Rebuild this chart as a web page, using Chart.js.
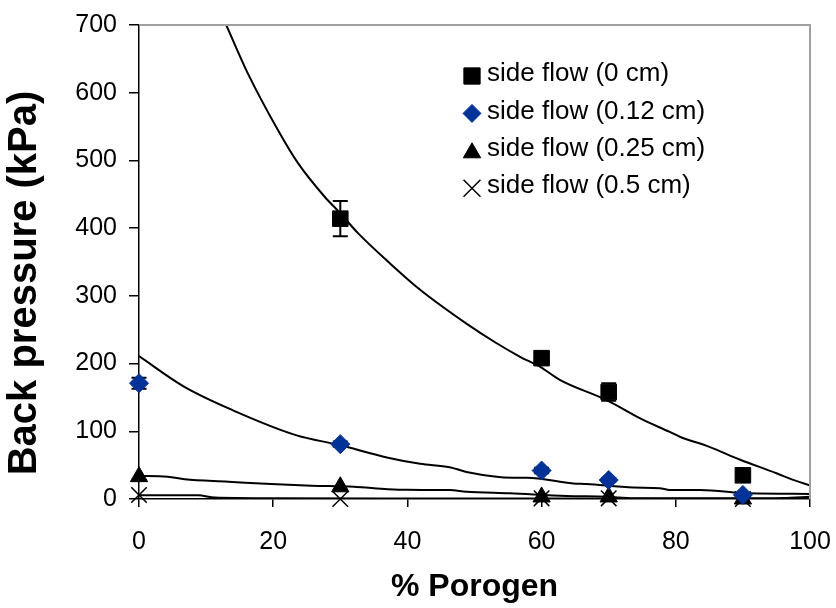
<!DOCTYPE html>
<html>
<head>
<meta charset="utf-8">
<script src="https://cdn.jsdelivr.net/npm/chart.js@4.4.1/dist/chart.umd.min.js"></script>
<style>
  html, body { margin: 0; padding: 0; background: #fff; }
  #wrap { width: 836px; height: 608px; }
</style>
</head>
<body>
<div id="wrap"><canvas id="chart" width="836" height="608"></canvas></div>
<script>
// Measured back pressure (kPa) against % porogen, one series per side-flow gap
const porogen0 = [30, 60, 70, 90];
const flow0 = [414, 208, 158, 35];
const flow0Err = [26, 8, 13, 5];

const porogen012 = [0, 30, 60, 70, 90];
const flow012 = [171, 81, 42, 28, 6];
const flow012Err = [8, 4, 4, 3, 3];

const porogen025 = [0, 30, 60, 70, 90];
const flow025 = [33, 18, 3, 3, 0];

const porogen05 = [0, 30, 60, 70, 90];
const flow05 = [6, 0, 1, 1, 0];

// Fitted trend curves for each series
const trend0X = [13, 16.2, 20.7, 23.7, 27.7, 30, 32.6, 37.4, 41.9, 48.8, 53.3, 56.8, 59.8, 62.7, 69.7, 74.7, 79.1, 80.6, 85, 89.6, 95, 97, 100];
const trend0Y = [700, 629, 545, 496, 446, 422, 393, 348, 309, 259, 230, 210, 195, 176, 146, 119, 99, 92, 77, 58, 38, 30, 20];

const trend012X = [0, 6.7, 14, 23.5, 29.7, 37.1, 41.9, 46.3, 48.8, 55.8, 57.8, 64.7, 66.7, 73.7, 77.6, 79.1, 83.6, 91, 100];
const trend012Y = [211, 166, 131, 94, 80, 61, 52, 47, 40, 31.5, 31.5, 23, 22, 17, 16, 13.3, 13.3, 8.4, 7.5];

const trend025X = [0, 4.3, 6.8, 13.3, 19.7, 25.7, 32, 37.1, 40, 46.3, 48.8, 55.3, 63.7, 69.7, 73.7, 90, 96, 100];
const trend025Y = [34, 33, 29, 25.6, 22, 19.7, 18.2, 14.5, 13.5, 13.3, 10.8, 8.4, 4.4, 3.4, 1.2, 1, 1.5, 3.5];

const trend05X = [0, 8.8, 11.3, 20, 40, 60, 80, 100];
const trend05Y = [5.4, 5.4, 2.2, 1.2, 0.8, 0.6, 0.5, 0.5];

const xTicks = [0, 20, 40, 60, 80, 100];
const yTicks = [0, 100, 200, 300, 400, 500, 600, 700];

const seriesNames = ['side flow (0 cm)', 'side flow (0.12 cm)', 'side flow (0.25 cm)', 'side flow (0.5 cm)'];
const xTitle = '% Porogen';
const yTitle = 'Back pressure (kPa)';

const FONT = "'Liberation Sans', Arial, sans-serif";
const BLUE = '#003399';

const pts = (xs, ys) => xs.map((x, i) => ({ x, y: ys[i] }));

const trendStyle = {
  type: 'line',
  showLine: true,
  borderColor: '#000',
  borderWidth: 2,
  pointRadius: 0,
  pointHoverRadius: 0,
  cubicInterpolationMode: 'monotone',
  fill: false,
  order: 2
};

const markerStyle = { order: 1, legend: true, clip: false };

const datasets = [
  { ...trendStyle, label: 'trend0', data: pts(trend0X, trend0Y) },
  { ...trendStyle, label: 'trend012', data: pts(trend012X, trend012Y) },
  { ...trendStyle, label: 'trend025', data: pts(trend025X, trend025Y) },
  { ...trendStyle, label: 'trend05', data: pts(trend05X, trend05Y) },
  { ...markerStyle, label: seriesNames[0], data: pts(porogen0, flow0), errors: flow0Err,
    pointStyle: 'rect', pointRadius: 11, legendRadius: 11.5,
    backgroundColor: '#000', borderColor: '#000', borderWidth: 1 },
  { ...markerStyle, label: seriesNames[1], data: pts(porogen012, flow012), errors: flow012Err,
    pointStyle: 'rectRot', pointRadius: 9.5, legendRadius: 9,
    backgroundColor: BLUE, borderColor: BLUE, borderWidth: 1 },
  { ...markerStyle, label: seriesNames[2], data: pts(porogen025, flow025),
    pointStyle: 'triangle', pointRadius: 10, legendRadius: 10,
    backgroundColor: '#000', borderColor: '#000', borderWidth: 1 },
  { ...markerStyle, label: seriesNames[3], data: pts(porogen05, flow05),
    pointStyle: 'crossRot', pointRadius: 11, legendRadius: 12,
    backgroundColor: '#000', borderColor: '#000', borderWidth: 1.5 }
];

// Error bars, plot frame, vertical axis title and the in-plot legend
const overlay = {
  id: 'overlay',
  beforeDatasetsDraw(chart) {
    const { ctx, scales: { x, y } } = chart;
    ctx.save();
    ctx.strokeStyle = '#000';
    ctx.lineWidth = 2;
    chart.data.datasets.forEach(ds => {
      if (!ds.errors) return;
      ds.data.forEach((p, i) => {
        const e = ds.errors[i];
        const px = x.getPixelForValue(p.x);
        const yt = y.getPixelForValue(p.y + e);
        const yb = y.getPixelForValue(p.y - e);
        ctx.beginPath();
        ctx.moveTo(px, yt); ctx.lineTo(px, yb);
        ctx.moveTo(px - 7.5, yt); ctx.lineTo(px + 7.5, yt);
        ctx.moveTo(px - 7.5, yb); ctx.lineTo(px + 7.5, yb);
        ctx.stroke();
      });
    });
    ctx.restore();
  },
  afterDraw(chart) {
    const { ctx, chartArea: a } = chart;
    ctx.save();
    // light frame on top and right of the plot
    ctx.strokeStyle = '#a0a0a0';
    ctx.lineWidth = 2;
    ctx.beginPath();
    ctx.moveTo(a.left, a.top);
    ctx.lineTo(a.right, a.top);
    ctx.lineTo(a.right, a.bottom);
    ctx.stroke();

    // vertical axis title, set a little below the middle of the axis
    ctx.save();
    ctx.translate(25, (a.top + a.bottom) / 2 + 21);
    ctx.rotate(-Math.PI / 2);
    ctx.font = `bold 40px ${FONT}`;
    ctx.fillStyle = '#000';
    ctx.textAlign = 'center';
    ctx.textBaseline = 'middle';
    ctx.fillText(yTitle, 0, 0);
    ctx.restore();

    // legend
    const items = chart.data.datasets.filter(d => d.legend);
    const mx = a.left + 333, tx = a.left + 348, y0 = a.top + 49, dy = 37.4;
    ctx.font = `26px ${FONT}`;
    ctx.textBaseline = 'middle';
    ctx.textAlign = 'left';
    items.forEach((d, i) => {
      const yy = y0 + i * dy;
      ctx.fillStyle = d.backgroundColor;
      ctx.strokeStyle = d.borderColor;
      ctx.lineWidth = d.borderWidth;
      const dyMark = d.pointStyle === 'triangle' ? 4 : 2;
      Chart.helpers.drawPoint(ctx, { pointStyle: d.pointStyle, radius: d.legendRadius, rotation: 0, borderWidth: d.borderWidth }, mx, yy + dyMark);
      ctx.fillStyle = '#000';
      ctx.fillText(d.label, tx, yy);
    });
    ctx.restore();
  }
};

new Chart(document.getElementById('chart'), {
  type: 'scatter',
  data: { datasets },
  options: {
    responsive: false,
    devicePixelRatio: 1,
    animation: false,
    events: [],
    layout: { padding: { top: 25, right: 26, left: 0, bottom: 0 } },
    plugins: { legend: { display: false }, tooltip: { enabled: false } },
    scales: {
      x: {
        type: 'linear', min: 0, max: 100,
        afterBuildTicks: s => { s.ticks = xTicks.map(v => ({ value: v })); },
        afterFit: s => { s.height = 109; s.paddingLeft = 0; s.paddingRight = 0; },
        ticks: { color: '#000', font: { family: FONT, size: 25 }, padding: 20, maxRotation: 0 },
        grid: { drawOnChartArea: false, drawTicks: true, tickLength: 8, color: '#000', lineWidth: 1.5 },
        border: { color: '#000', width: 1.5 },
        title: { display: true, text: xTitle, color: '#000', font: { family: FONT, size: 32, weight: 'bold' }, padding: { top: 0, bottom: 2 } }
      },
      y: {
        type: 'linear', min: 0, max: 700,
        afterBuildTicks: s => { s.ticks = yTicks.map(v => ({ value: v })); },
        afterFit: s => { s.width = 139; s.paddingTop = 0; s.paddingBottom = 0; },
        ticks: { color: '#000', font: { family: FONT, size: 25 }, padding: 12 },
        grid: { drawOnChartArea: false, drawTicks: true, tickLength: 10, color: '#000', lineWidth: 1.5 },
        border: { color: '#000', width: 1.5 },
        title: { display: false }
      }
    }
  },
  plugins: [overlay]
});
</script>
</body>
</html>
